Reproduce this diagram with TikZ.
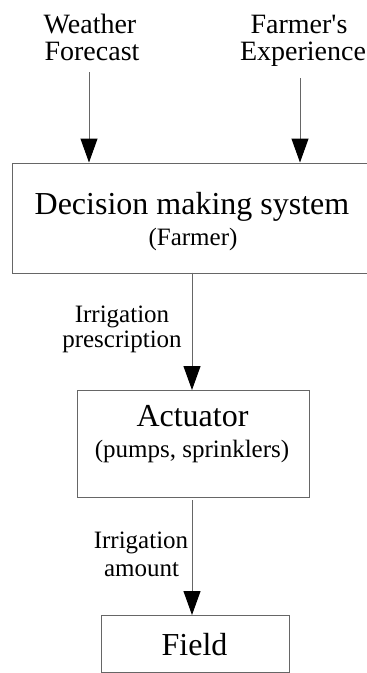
\documentclass[tikz,border=0pt]{standalone}
\usepackage{fontspec}
\setmainfont{Liberation Serif}
\usetikzlibrary{arrows.meta}
\definecolor{linegray}{rgb}{0.4,0.4,0.4}

\tikzset{
  box/.style={draw=linegray, line width=1pt, anchor=north west, inner sep=0pt},
  flow/.style={draw=linegray, line width=1pt, -{Triangle[length=24pt,width=17pt,color=black]}},
  txt/.style={anchor=base, inner sep=0pt},
}

\begin{document}
\begin{tikzpicture}[x=1pt,y=-1pt]
\useasboundingbox (0,0) rectangle (367,673);
\clip (0,0) rectangle (367,673);
% inputs
\node[txt, font=\fontsize{28}{30}\selectfont] (wf1) at (90,33) {Weather};
\node[txt, font=\fontsize{28}{30}\selectfont] (wf2) at (92,60) {Forecast};
\node[txt, font=\fontsize{28}{30}\selectfont] (fe1) at (299,33) {Farmer\textquotesingle s};
\node[txt, font=\fontsize{28}{30}\selectfont] (fe2) at (303,60) {Experience};
% boxes
\node[box, minimum width=420pt, minimum height=110pt] (dms) at (12,162.5) {};
\node[txt, font=\fontsize{32}{34}\selectfont] (dms1) at (192,214) {Decision making system};
\node[txt, font=\fontsize{25}{27}\selectfont] (dms2) at (193,245) {(Farmer)};
\node[box, minimum width=232pt, minimum height=107pt] (act) at (77,390) {};
\node[txt, font=\fontsize{32}{34}\selectfont] (act1) at (192.5,426) {Actuator};
\node[txt, font=\fontsize{25}{27}\selectfont] (act2) at (192,457) {(pumps, sprinklers)};
\node[box, minimum width=188pt, minimum height=57pt] (fld) at (101,615) {};
\node[txt, font=\fontsize{32}{34}\selectfont] (fld1) at (194.5,655) {Field};
% edge labels
\node[txt, font=\fontsize{25}{27}\selectfont] (ip1) at (122,322) {Irrigation};
\node[txt, font=\fontsize{25}{27}\selectfont] (ip2) at (122,347) {prescription};
\node[txt, font=\fontsize{25}{27}\selectfont] (ia1) at (141,548) {Irrigation};
\node[txt, font=\fontsize{25}{27}\selectfont] (ia2) at (141.5,576) {amount};
% arrows
\coordinate (wfend) at (89,72);
\coordinate (feend) at (300,78);
\coordinate (dmsout) at (192,272.5);
\coordinate (actout) at (192,500);
\draw[flow] (wfend) -- (wfend |- dms.north);
\draw[flow] (feend) -- (feend |- dms.north);
\draw[flow] (dmsout) -- (dmsout |- act.north);
\draw[flow] (actout) -- (actout |- fld.north);
\end{tikzpicture}
\end{document}
